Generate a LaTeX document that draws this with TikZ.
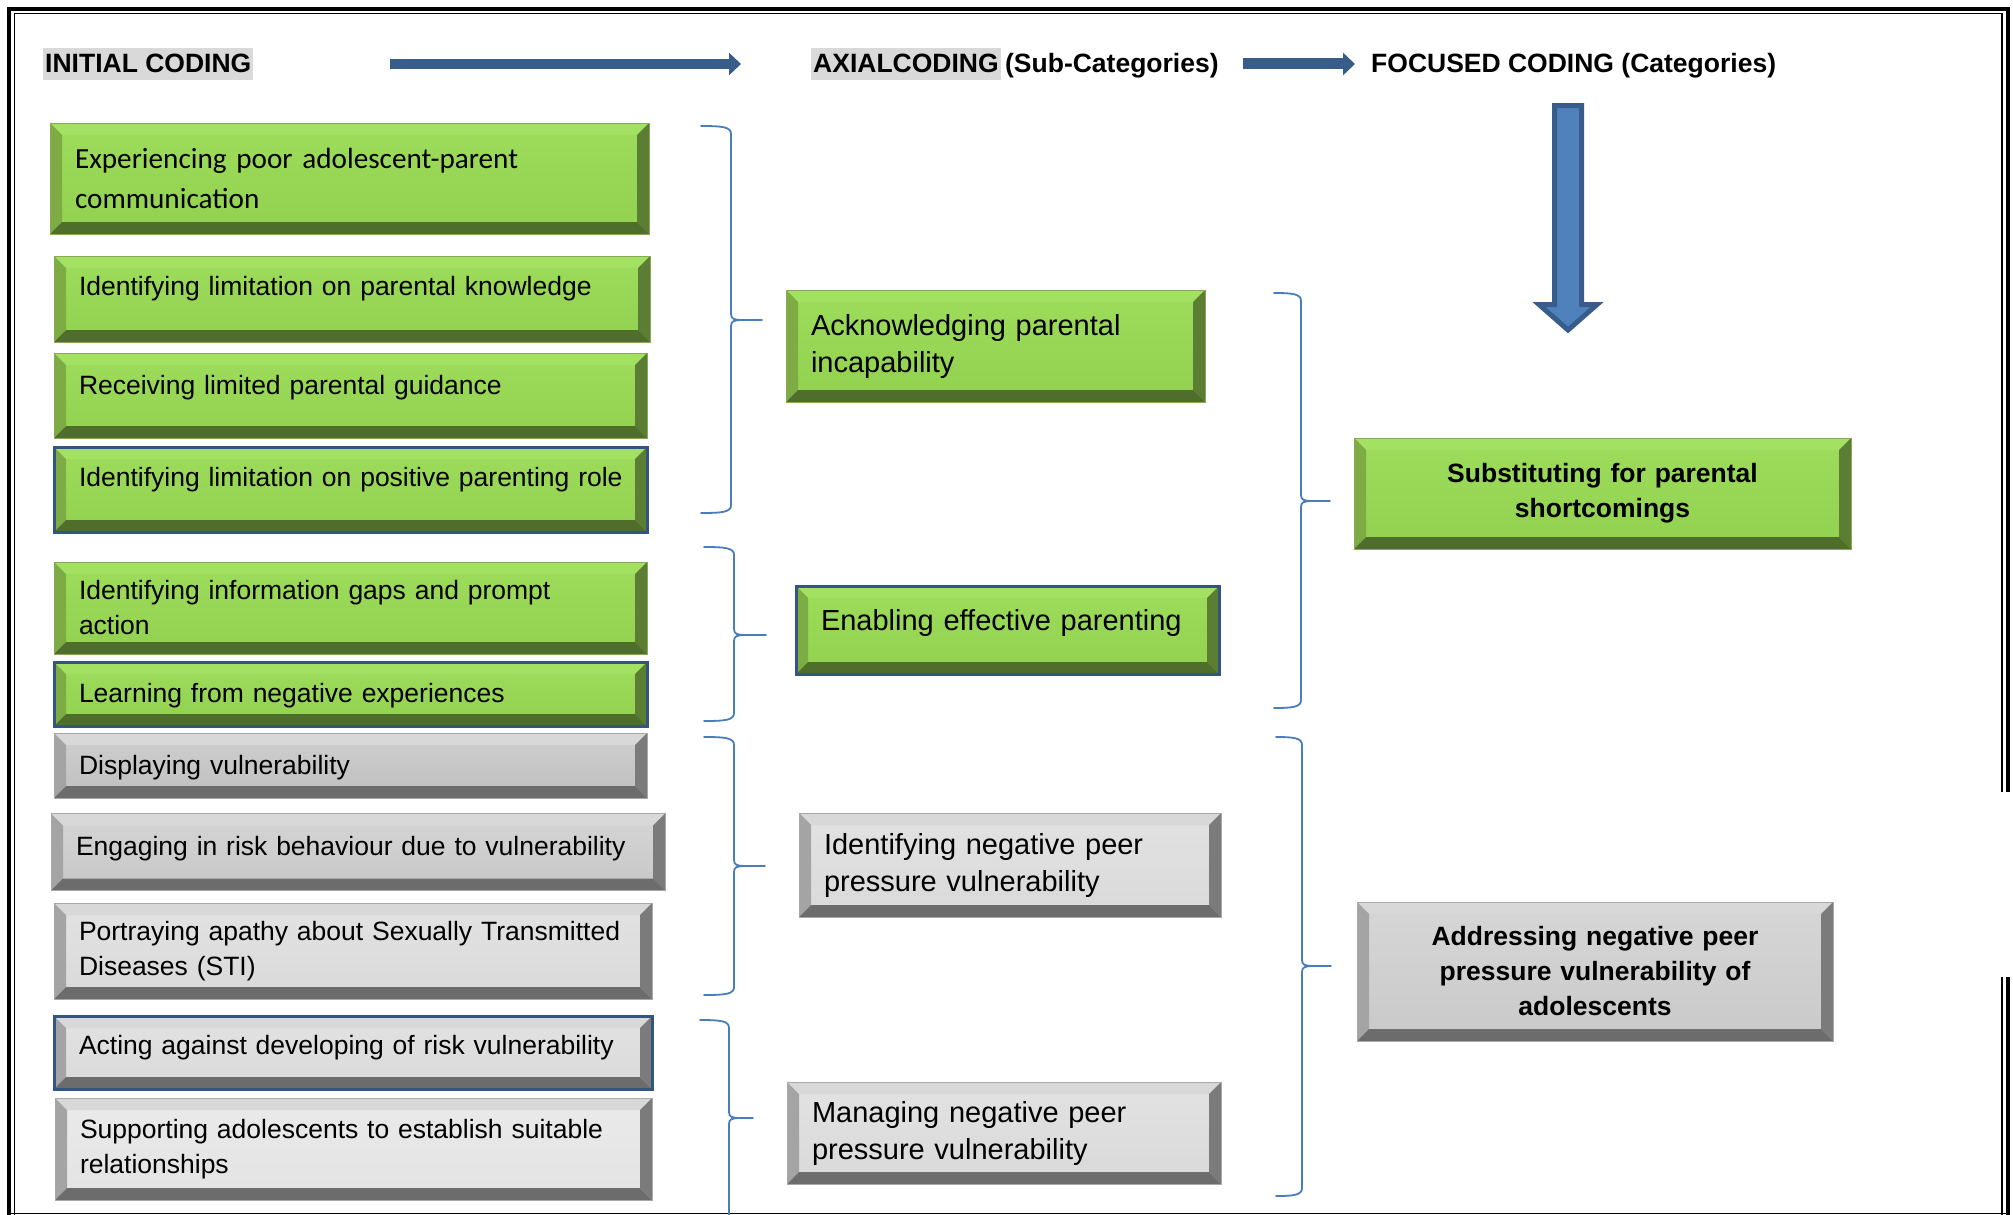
\documentclass[tikz,border=0pt]{standalone}
\usepackage{fontspec}
\setmainfont{Liberation Sans}
\newfontfamily\calibri{Carlito}
\usetikzlibrary{arrows.meta}

\definecolor{leaf}{HTML}{92D050}
\definecolor{leafhi}{HTML}{9EDD5C}
\definecolor{leaftop}{HTML}{A3E162}
\definecolor{leafleft}{HTML}{7DAC44}
\definecolor{leafright}{HTML}{5B7D34}
\definecolor{leafbot}{HTML}{4F6E2C}
\definecolor{leafedge}{HTML}{8BA755}
\definecolor{ashA}{HTML}{BFBFBF}
\definecolor{ashB}{HTML}{C7C7C7}
\definecolor{ashC}{HTML}{D9D9D9}
\definecolor{ashD}{HTML}{E3E3E3}
\definecolor{ashF}{HTML}{C9C9C9}
\definecolor{ashtop}{HTML}{D8D8D8}
\definecolor{ashleft}{HTML}{A4A4A4}
\definecolor{ashright}{HTML}{7B7B7B}
\definecolor{ashbot}{HTML}{6C6C6C}
\definecolor{ashedge}{HTML}{A8A8A8}
\definecolor{rim}{HTML}{34557F}
\definecolor{hdrgray}{HTML}{D9D9D9}
\definecolor{navy}{HTML}{385D8A}
\definecolor{sky}{HTML}{4F81BD}
\definecolor{bracecol}{HTML}{4A7EBB}

\tikzset{
	bevel/.style n args={4}{path picture={
		\path (path picture bounding box.north west) coordinate (bvA)
		      (path picture bounding box.north east) coordinate (bvB)
		      (path picture bounding box.south east) coordinate (bvC)
		      (path picture bounding box.south west) coordinate (bvD);
		\fill[#1] (bvA) -- (bvB) -- ([shift={(-12,12)}]bvB) -- ([shift={(12,12)}]bvA) -- cycle;
		\fill[#2] (bvA) -- ([shift={(12,12)}]bvA) -- ([shift={(12,-12)}]bvD) -- (bvD) -- cycle;
		\fill[#3] (bvB) -- ([shift={(-12,12)}]bvB) -- ([shift={(-12,-12)}]bvC) -- (bvC) -- cycle;
		\fill[#4] (bvD) -- ([shift={(12,-12)}]bvD) -- ([shift={(-12,-12)}]bvC) -- (bvC) -- cycle;
	}},
	card/.style 2 args={rectangle,inner sep=0pt,align=left,minimum width=#1pt,minimum height=#2pt,
		text width=#1pt-50pt,font=\fontsize{26.5}{35}\selectfont},
	leafbox/.style={top color=leafhi,middle color=leaf,bottom color=leaf,draw=leafedge,line width=1pt,
		bevel={leaftop}{leafleft}{leafright}{leafbot}},
	ashbox/.style={top color=#1!75!white,middle color=#1,bottom color=#1,draw=ashedge,line width=1pt,
		bevel={ashtop}{ashleft}{ashright}{ashbot}},
	rimmed/.style={draw=rim,line width=3pt},
	lift/.style={text height=20pt,text depth=#1},
	hdr/.style={font=\bfseries\fontsize{26.5}{30}\selectfont},
	hdrarrow/.style={draw=navy,line width=10.5pt,-{Triangle[length=12pt,width=22pt]}},
	bracket/.style={draw=bracecol,line width=1.8pt,line cap=round}
}

\newcommand{\curly}[6]{%
	\draw[bracket] (#1,#4) .. controls (#2-8,#4) and (#2,#4+1) .. (#2,#4+8)
		-- (#2,#5-6) .. controls (#2,#5-1) and (#2+3,#5) .. (#2+12,#5) -- (#3,#5)
		(#2+12,#5) .. controls (#2+3,#5) and (#2,#5+1) .. (#2,#5+6)
		-- (#2,#6-8) .. controls (#2,#6-1) and (#2-8,#6) .. (#1,#6);}

\begin{document}
\begin{tikzpicture}[x=1pt,y=-1pt]
	\useasboundingbox[fill=white] (0,0) rectangle (2013,1215);
	\draw[line width=4pt] (9,1260) -- (9,9) -- (2008,9) -- (2008,792);
	\draw[line width=4pt] (2008,977) -- (2008,1260);
	\draw[line width=1.5pt] (14.5,1260) -- (14.5,13.5) -- (2002,13.5) -- (2002,792);
	\draw[line width=1.5pt] (2002,977) -- (2002,1260);
	\draw[line width=1.5pt] (9,1213.5) -- (2008,1213.5);

	\node[hdr,fill=hdrgray,anchor=base west,inner xsep=2pt,inner ysep=2pt,text height=22.5pt,text depth=5.5pt] (h1) at (43,72.5) {INITIAL CODING};
	\node[hdr,anchor=base west,inner sep=0pt] (h2) at (811,72.5) {{\fboxsep=2pt\colorbox{hdrgray}{\rule[-5.5pt]{0pt}{28pt}AXIALCODING}}\,(Sub-Categories)};
	\node[hdr,anchor=base west,inner sep=0pt] (h3) at (1371,72.5) {FOCUSED CODING (Categories)};
	\draw[hdrarrow,shorten <=136pt,shorten >=70pt] (h1.east) -- (h1.east -| h2.west);
	\draw[hdrarrow,line width=11pt,shorten <=24pt,shorten >=16pt] (h2.east) -- (h2.east -| h3.west);
	\filldraw[fill=sky,draw=navy,line width=5pt] (1554.5,105.5) -- (1581.5,105.5) -- (1581.5,304.5) -- (1597,304.5)
		-- (1568,330) -- (1539,304.5) -- (1554.5,304.5) -- cycle;

	\node[card={599}{111},leafbox,font=\calibri\fontsize{29.2}{40}\selectfont] (ini1) at (349.5,178.5) {Experiencing poor adolescent-parent\\communication};
	\node[card={596}{86},leafbox,lift=27pt] (ini2) at (352,299) {Identifying limitation on parental knowledge};
	\node[card={593}{85},leafbox,lift=23pt] (ini3) at (350.5,395.5) {Receiving limited parental guidance};
	\node[card={593}{85},leafbox,rimmed,lift=25.6pt] (ini4) at (350.5,489.5) {\mbox{Identifying limitation on positive parenting role}};
	\node[card={593}{92},leafbox] (ini5) at (350.5,608) {Identifying information gaps and prompt\\action};
	\node[card={593}{64},leafbox,rimmed,lift=3pt] (ini6) at (350.5,694) {Learning from negative experiences};
	\node[card={593}{65},ashbox=ashA,lift=3pt] (ini7) at (350.5,765.5) {Displaying vulnerability};
	\node[card={614}{77},ashbox=ashB,lift=13pt] (ini8) at (358,852) {Engaging in risk behaviour due to vulnerability};
	\node[card={598}{96},ashbox=ashC] (ini9) at (353,951) {Portraying apathy about Sexually Transmitted\\Diseases (STI)};
	\node[card={598}{73},ashbox=ashC,rimmed,lift=17pt] (ini10) at (353,1052.5) {Acting against developing of risk vulnerability};
	\node[card={597}{102},ashbox=ashD] (ini11) at (353.5,1149) {Supporting adolescents to establish suitable\\relationships};

	\node[card={419}{112},leafbox,font=\fontsize{29}{37}\selectfont] (sub1) at (995.5,346) {Acknowledging parental\\incapability};
	\node[card={423}{88},leafbox,rimmed,font=\fontsize{29}{37}\selectfont,lift=20pt] (sub2) at (1007.5,630) {Enabling effective parenting};
	\node[card={422}{104},ashbox=ashC,font=\fontsize{29}{37}\selectfont] (sub3) at (1010,865) {Identifying negative peer\\pressure vulnerability};
	\node[card={434}{102},ashbox=ashC,font=\fontsize{29}{37}\selectfont] (sub4) at (1004,1133) {Managing negative peer\\pressure vulnerability};

	\node[card={497}{111},leafbox,align=center,font=\bfseries\fontsize{26.5}{35}\selectfont] (cat1) at (1602.5,493.5) {Substituting for parental\\shortcomings};
	\node[card={476}{139},ashbox=ashF,align=center,font=\bfseries\fontsize{26.5}{35}\selectfont] (cat2) at (1595,971.5) {Addressing negative peer\\pressure vulnerability of\\adolescents};

	\curly{701}{731}{762}{126}{320}{513}
	\curly{704}{734}{766}{547}{635}{721}
	\curly{704}{734}{765}{737}{866}{995}
	\curly{700}{729}{753}{1020}{1118}{1270}
	\curly{1274}{1301}{1330}{293}{501}{708}
	\curly{1276}{1302}{1331}{737}{966}{1196}
\end{tikzpicture}
\end{document}
